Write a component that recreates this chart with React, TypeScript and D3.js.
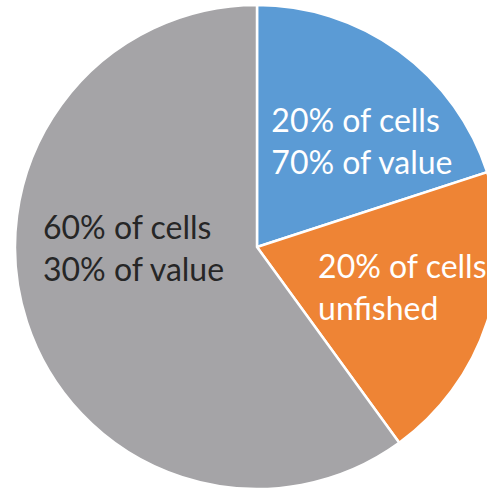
import { useEffect, useRef } from 'react';
import * as d3 from 'd3';

const segments = ['top', 'right', 'rest'];
const shares = [20, 20, 60];
const colors = ['#5B9BD5', '#EE8435', '#A5A4A7'];
const textColors = ['#FFFFFF', '#FFFFFF', '#262626'];
const labelLines = [
  ['20% of cells', '70% of value'],
  ['20% of cells', 'unfished'],
  ['60% of cells', '30% of value'],
];

export default function App() {
  const svgRef = useRef<SVGSVGElement>(null);

  useEffect(() => {
    document.body.style.margin = '0';
    if (!svgRef.current) return;

    const W = 487;
    const H = 489;
    const cx = 257;
    const cy = 247;
    const R = 242;

    const svg = d3.select(svgRef.current).attr('width', W).attr('height', H);
    svg.selectAll('*').remove();

    const data = segments.map((s, i) => ({ s, v: shares[i], i }));
    const pie = d3.pie<{ s: string; v: number; i: number }>().value(d => d.v).sort(null);
    const arc = d3.arc<d3.PieArcDatum<{ s: string; v: number; i: number }>>()
      .innerRadius(0).outerRadius(R);

    const g = svg.append('g').attr('transform', `translate(${cx},${cy})`);
    const arcs = pie(data);

    g.selectAll('path').data(arcs).enter().append('path')
      .attr('d', arc)
      .style('fill', d => colors[d.data.i])
      .style('stroke', '#fff')
      .style('stroke-width', 2.5)
      .style('stroke-linejoin', 'round');

    // label blocks, placed relative to each slice's centroid
    const labelArc = d3.arc<d3.PieArcDatum<{ s: string; v: number; i: number }>>()
      .innerRadius(R * 0.6).outerRadius(R * 0.6);
    const nudge = [[-71, 2], [-77, -14], [-76, -53]];

    arcs.forEach(d => {
      const [x, y] = labelArc.centroid(d);
      const t = g.append('text')
        .attr('x', x + nudge[d.data.i][0])
        .attr('y', y + nudge[d.data.i][1])
        .style('font-family', 'Lato, "Open Sans", sans-serif')
        .style('font-size', '32px')
        .style('fill', textColors[d.data.i]);
      labelLines[d.data.i].forEach((line, k) => {
        t.append('tspan')
          .attr('x', x + nudge[d.data.i][0])
          .attr('dy', k === 0 ? 0 : 42)
          .text(line);
      });
    });
  }, []);

  return <svg ref={svgRef} style={{ display: 'block' }} />;
}
